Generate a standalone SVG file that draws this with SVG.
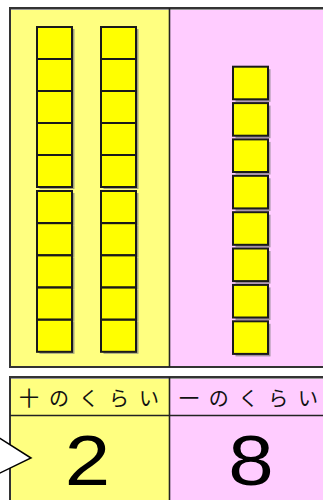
<svg xmlns="http://www.w3.org/2000/svg" width="323" height="500" viewBox="0 0 323 500">
<defs>
<style>
.yel{fill:#FFFF80}
.pink{fill:#FFCCFF}
.frame{fill:none;stroke:#333;stroke-width:2}
.sq{fill:#FFFF00;stroke:#1a1a1a;stroke-width:2}
.sh{fill:#7a7a7a;opacity:0.7}
.hdr{font-family:"Noto Sans CJK JP","Noto Sans",sans-serif;font-size:20px;fill:#111}
.num{font-family:"Liberation Sans",Arial,sans-serif;font-size:71px;fill:#000}
</style>
<g id="tsq">
<rect class="sh" x="2.5" y="2" width="35" height="32"/>
<rect class="sq" x="0" y="0" width="35" height="32"/>
</g>
<g id="osq">
<rect class="sh" x="2.5" y="2.5" width="35" height="32.6"/>
<rect class="sq" x="0" y="0" width="35" height="32.6"/>
</g>
</defs>
<rect width="323" height="500" fill="#fff"/>
<g id="top-panel">
<rect class="yel" x="10" y="8" width="159.5" height="359"/>
<rect class="pink" x="169.5" y="8" width="154" height="359"/>
<path d="M324 9.5H10.5V367.5H324" fill="none" stroke="#999" stroke-width="1"/>
<path d="M324 8H10V367H324" class="frame"/>
<line x1="169.5" y1="8" x2="169.5" y2="367" stroke="#222" stroke-width="1.6"/>
</g>
<g id="tens-column-1">
<use href="#tsq" x="37" y="27"/><use href="#tsq" x="37" y="59"/><use href="#tsq" x="37" y="91"/><use href="#tsq" x="37" y="123"/><use href="#tsq" x="37" y="155"/>
<use href="#tsq" x="37" y="191"/><use href="#tsq" x="37" y="223.2"/><use href="#tsq" x="37" y="255.4"/><use href="#tsq" x="37" y="287.6"/><use href="#tsq" x="37" y="319.8"/>
</g>
<g id="tens-column-2">
<use href="#tsq" x="101" y="27"/><use href="#tsq" x="101" y="59"/><use href="#tsq" x="101" y="91"/><use href="#tsq" x="101" y="123"/><use href="#tsq" x="101" y="155"/>
<use href="#tsq" x="101" y="191"/><use href="#tsq" x="101" y="223.2"/><use href="#tsq" x="101" y="255.4"/><use href="#tsq" x="101" y="287.6"/><use href="#tsq" x="101" y="319.8"/>
</g>
<g id="ones-column">
<use href="#osq" x="233" y="66.7"/><use href="#osq" x="233" y="103.1"/><use href="#osq" x="233" y="139.4"/><use href="#osq" x="233" y="175.8"/>
<use href="#osq" x="233" y="212.2"/><use href="#osq" x="233" y="248.5"/><use href="#osq" x="233" y="284.9"/><use href="#osq" x="233" y="321.3"/>
</g>
<g id="bottom-panel">
<rect class="yel" x="10" y="377" width="159.5" height="124"/>
<rect class="pink" x="169.5" y="377" width="154" height="124"/>
<path d="M324 378.5H10.5V501" fill="none" stroke="#999" stroke-width="1"/>
<path d="M324 377H10V501" class="frame"/>
<line x1="10" y1="415.5" x2="324" y2="415.5" stroke="#222" stroke-width="1.6"/>
<line x1="169.5" y1="377" x2="169.5" y2="501" stroke="#222" stroke-width="1.6"/>
</g>
<g id="tens-label">
<text class="hdr" x="19" y="406" textLength="140" lengthAdjust="spacing">十のくらい</text>
<text class="num" x="0" y="0" text-anchor="middle" transform="translate(87.5 485) scale(1.15 1)">2</text>
</g>
<g id="ones-label">
<text class="hdr" x="179" y="406" textLength="139" lengthAdjust="spacing">一のくらい</text>
<text class="num" x="0" y="0" text-anchor="middle" transform="translate(251 485) scale(1.15 1)">8</text>
</g>
<g id="pointer">
<path d="M-2 437L31 458L-2 474" fill="#fff" stroke="#000" stroke-width="1.5" stroke-linejoin="miter"/>
</g>
</svg>
